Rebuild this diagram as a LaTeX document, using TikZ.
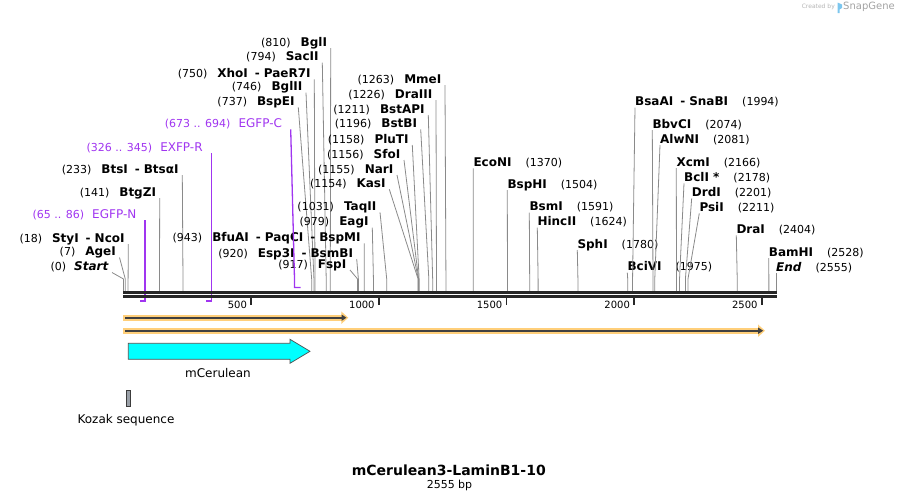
\documentclass[tikz,border=0pt]{standalone}
\usepackage{fontspec}
\setmainfont{DejaVu Sans}
\usepackage{xcolor}
\usepackage{tikz}
\usetikzlibrary{arrows.meta}
\definecolor{seq}{HTML}{262626}
\definecolor{conn}{HTML}{8A8A8A}
\definecolor{primer}{HTML}{A035F0}
\definecolor{orfline}{HTML}{404040}
\definecolor{orfhalo}{HTML}{FFCF7A}
\definecolor{cer}{HTML}{00FFFF}
\definecolor{kozak}{HTML}{9AA0A8}
\definecolor{wm}{HTML}{B4B4B4}
\definecolor{wmblue}{HTML}{7CC6EE}
\newcommand{\enz}[1]{{\fontsize{12}{14}\selectfont\bfseries #1}}
\newcommand{\cutsep}{\hspace{7pt}-\hspace{4pt}}
\tikzset{
  cut/.style={draw=conn, line width=0.8pt},
  seqline/.style={draw=seq, line width=2.7pt},
  tick/.style={draw=seq, line width=1.6pt},
  primline/.style={draw=primer, line width=1.3pt},
  labl/.style={anchor=south east, inner xsep=3.5pt, inner ysep=0pt, text depth=1.6pt, font=\fontsize{11}{13}\selectfont},
  labr/.style={labl, anchor=south west, inner xsep=0pt},
  labp/.style={labl, inner xsep=8.5pt, text=primer},
  labt/.style={anchor=east, inner sep=0pt, font=\fontsize{10}{12}\selectfont},
  labf/.style={inner sep=0pt, font=\fontsize{12}{14}\selectfont},
  orfhalo/.style={draw=orfhalo, line width=6pt, -{Triangle[length=7pt,width=12pt]}},
  orfline/.style={draw=orfline, line width=1.8pt, -{Triangle[length=5pt,width=6pt]}},
}

\begin{document}
\begin{tikzpicture}[x=1pt, y=-1pt]
  \useasboundingbox (0,0) rectangle (900,501);
  % watermark
  \node[anchor=east, inner sep=0pt, text=wm, font=\fontsize{6}{7}\selectfont] (wm1) at (835,7) {Created by};
  \fill[wmblue] (837.5,2.5) -- (842,4.5) -- (842,8) -- (839.5,9.5) -- (839.5,13) -- (837.5,13) -- cycle;
  \node[anchor=west, inner sep=0pt, text=wm!90!black, font=\fontsize{10}{12}\selectfont] (wm2) at (843,7) {SnapGene};
  % cut sites, label left of its line
  \foreach \p/\nm/\lx/\ly in {810/BglI/330.7/48, 794/SacII/322.3/62.7, 750/XhoI\cutsep PaeR7I/314.3/79.3,
      746/BglII/306/92.7, 737/BspEI/298.3/107.3, 233/BtsI\cutsep BtsαI/182.3/175, 141/BtgZI/159.7/198,
      18/StyI\cutsep NcoI/128.3/244, 7/AgeI/119.5/257.5, 943/BfuAI\cutsep PaqCI\cutsep BspMI/364.3/243.3,
      920/Esp3I\cutsep BsmBI/356.7/259, 917/FspI/350/270, 1031/TaqII/380/212.3, 979/EagI/372.3/227.7,
      1155/NarI/397/175, 1154/KasI/389.3/189.3, 1156/SfoI/404/160, 1158/PluTI/412.3/145,
      1196/BstBI/420.7/129.3, 1211/BstAPI/428.3/115, 1226/DraIII/436/100, 1263/MmeI/445/85} {
    \coordinate (c\p) at ({123.5+0.2553*\p},291);
    \node[labl] (L\p) at (\lx,\ly) {(\p)\hspace{10pt}\enz{\nm}};
    \draw[cut] (L\p.south east) -- ([yshift=12pt]c\p) -- (c\p);
  }
  % cut sites, label right of its line
  \foreach \p/\nm/\lx/\ly in {1370/EcoNI/473.3/168.3, 1504/BspHI/507.3/190, 1591/BsmI/529.3/212.7,
      1624/HincII/537.3/227.7, 1780/SphI/577.3/250, 1975/BciVI/627.3/272.7,
      1994/BsaAI\cutsep SnaBI/635/107.7, 2074/BbvCI/652.3/130, 2081/AlwNI/660/145,
      2166/XcmI/676.3/168, 2178/BclI */684/183.3, 2201/DrdI/691.7/198.3, 2211/PsiI/699.3/213.3,
      2404/DraI/736.3/235.3, 2528/BamHI/768.7/258} {
    \coordinate (c\p) at ({123.5+0.2553*\p},291);
    \node[labr] (R\p) at (\lx,\ly) {\enz{\nm}\hspace{14pt}(\p)};
    \draw[cut] (R\p.south west) -- ([yshift=12pt]c\p) -- (c\p);
  }
  \coordinate (c0) at (123.5,291);
  \node[labl] (Lstart) at (112,272.5) {(0)\hspace{8pt}\enz{\itshape Start}};
  \draw[cut] (Lstart.south east) -- ([yshift=12pt]c0) -- (c0);
  \coordinate (c2555) at (776,291);
  \node[labr] (Rend) at (776,273) {\enz{\itshape End}\hspace{14pt}(2555)};
  \draw[cut] (Rend.south west) -- (c2555);
  % primers
  \node[labp] (P65) at (145,220) {(65 .. 86)\hspace{8pt}{\fontsize{12}{14}\selectfont EGFP-N}};
  \coordinate (e65) at (140,301);
  \draw[primline] (P65.south east) -- (P65.south east |- e65) -- (e65);
  \node[labp] (P326) at (211.3,153.3) {(326 .. 345)\hspace{8pt}{\fontsize{12}{14}\selectfont EXFP-R}};
  \coordinate (e326) at (206,301);
  \draw[primline] (P326.south east) -- (P326.south east |- e326) -- (e326);
  \node[labp] (P673) at (290.7,129.3) {(673 .. 694)\hspace{8pt}{\fontsize{12}{14}\selectfont EGFP-C}};
  \coordinate (b673) at (294.5,287.5);
  \coordinate (e673) at (300.5,287.5);
  \draw[primline] (P673.south east) -- ([yshift=8.5pt]b673) -- (b673) -- (e673);
  % sequence
  \draw[seqline] (123,292.3) -- (777,292.3);
  \draw[seqline] (123,296.3) -- (777,296.3);
  \foreach \t in {500,1000,1500,2000,2500} {
    \draw[tick] ({123.5+0.2553*\t},297.5) -- ({123.5+0.2553*\t},304.5);
    \node[labt] (t\t) at ({119.5+0.2553*\t},304.5) {\t};
  }
  % open reading frames
  \draw[orfhalo] (123.3,317.7) -- (348.3,317.7);
  \draw[orfline] (125,317.7) -- (346.5,317.7);
  \draw[orfhalo] (123.3,330.7) -- (765,330.7);
  \draw[orfline] (125,330.7) -- (763.2,330.7);
  % features
  \draw[fill=cer, draw=seq!80, line width=0.7pt] (128.3,343.3) -- (290,343.3) -- (290,339.3) -- (310,351.3)
    -- (290,363.3) -- (290,359.3) -- (128.3,359.3) -- cycle;
  \node[labf] (fcer) at (218,373) {mCerulean};
  \draw[fill=kozak, draw=seq!90, line width=0.7pt] (126.7,390) rectangle (130,406);
  \node[labf] (fkoz) at (126,420) {Kozak sequence};
  % title
  \node[inner sep=0pt, font=\fontsize{14}{16}\selectfont\bfseries] (title) at (448.8,470) {mCerulean3-LaminB1-10};
  \node[inner sep=0pt, font=\fontsize{11}{13}\selectfont] (size) at (449.5,485) {2555 bp};
\end{tikzpicture}
\end{document}
